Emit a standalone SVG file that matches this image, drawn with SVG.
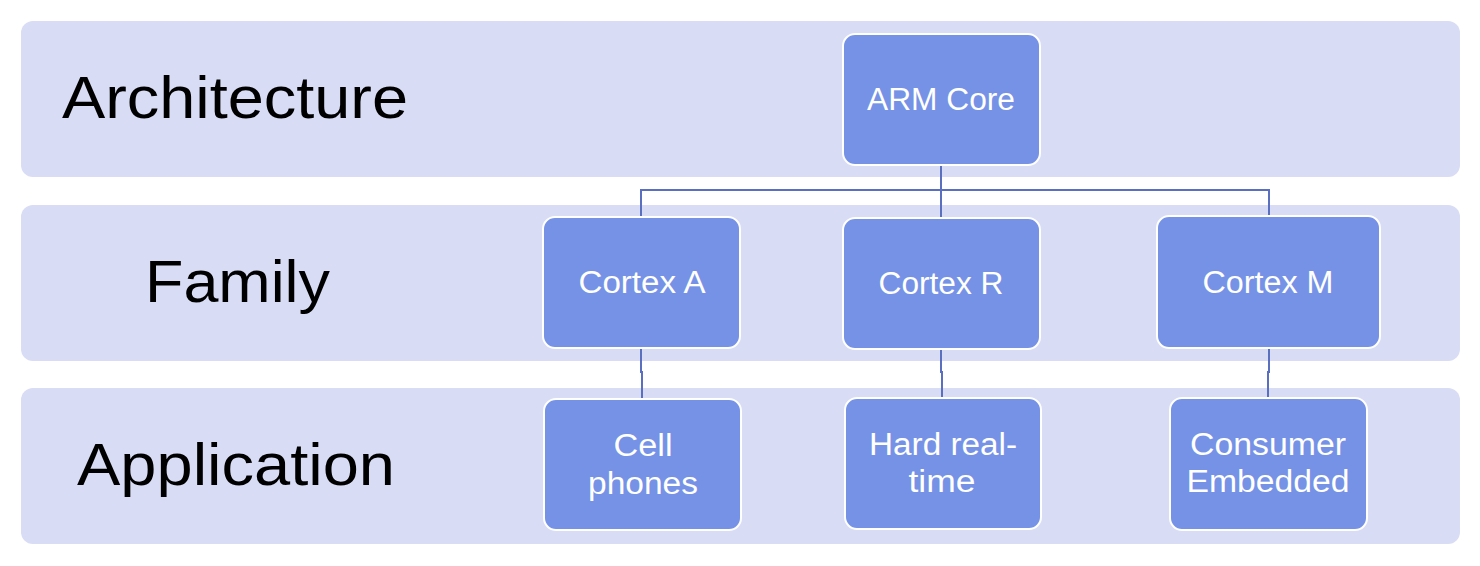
<svg xmlns="http://www.w3.org/2000/svg" width="1480" height="566" viewBox="0 0 1480 566">
<style>
.band{fill:#d8dcf5}
.node{fill:#7592e6;stroke:#ffffff;stroke-width:2}
.lbl{font-family:"Liberation Sans",Arial,sans-serif;font-size:60px;fill:#000}
.nt{font-family:"Liberation Sans",Arial,sans-serif;font-size:31px;fill:#fff;text-anchor:middle}
.conn{fill:none;stroke:#5a6fc0;stroke-width:2}
</style>
<rect width="1480" height="566" fill="#ffffff"/>
<g id="bands">
<rect class="band" x="21" y="21" width="1439" height="156" rx="12"/>
<rect class="band" x="21" y="205" width="1439" height="156" rx="12"/>
<rect class="band" x="21" y="388" width="1439" height="156" rx="12"/>
<text class="lbl" x="62" y="118" textLength="346" lengthAdjust="spacingAndGlyphs">Architecture</text>
<text class="lbl" x="145" y="302" textLength="185" lengthAdjust="spacingAndGlyphs">Family</text>
<text class="lbl" x="77" y="485" textLength="318" lengthAdjust="spacingAndGlyphs">Application</text>
</g>
<g id="connectors">
<path class="conn" d="M941 165 V190 M641 217 V190 H1269 V216 M941 190 V218"/>
<path class="conn" d="M641 348 V372 H642 V399"/>
<path class="conn" d="M941 349 V372 H942 V398"/>
<path class="conn" d="M1269 348 V372 H1268 V398"/>
</g>
<g id="arm-core"><rect class="node" x="843" y="34" width="197" height="131" rx="12"/><text class="nt" x="941" y="110" textLength="148" lengthAdjust="spacingAndGlyphs">ARM Core</text></g>
<g id="cortex-a"><rect class="node" x="543" y="217" width="197" height="131" rx="12"/><text class="nt" x="642" y="293" textLength="127" lengthAdjust="spacingAndGlyphs">Cortex A</text></g>
<g id="cortex-r"><rect class="node" x="843" y="218" width="197" height="131" rx="12"/><text class="nt" x="941" y="294" textLength="125" lengthAdjust="spacingAndGlyphs">Cortex R</text></g>
<g id="cortex-m"><rect class="node" x="1157" y="216" width="223" height="132" rx="12"/><text class="nt" x="1268" y="293" textLength="131" lengthAdjust="spacingAndGlyphs">Cortex M</text></g>
<g id="cell-phones"><rect class="node" x="544" y="399" width="197" height="131" rx="12"/><text class="nt" x="643" y="456" textLength="59" lengthAdjust="spacingAndGlyphs">Cell</text><text class="nt" x="643" y="494" textLength="110" lengthAdjust="spacingAndGlyphs">phones</text></g>
<g id="hard-real-time"><rect class="node" x="845" y="398" width="196" height="131" rx="12"/><text class="nt" x="943" y="455" textLength="148" lengthAdjust="spacingAndGlyphs">Hard real-</text><text class="nt" x="942" y="492" textLength="67" lengthAdjust="spacingAndGlyphs">time</text></g>
<g id="consumer-embedded"><rect class="node" x="1170" y="398" width="197" height="132" rx="12"/><text class="nt" x="1268" y="455" textLength="156" lengthAdjust="spacingAndGlyphs">Consumer</text><text class="nt" x="1268" y="492" textLength="163" lengthAdjust="spacingAndGlyphs">Embedded</text></g>
</svg>
